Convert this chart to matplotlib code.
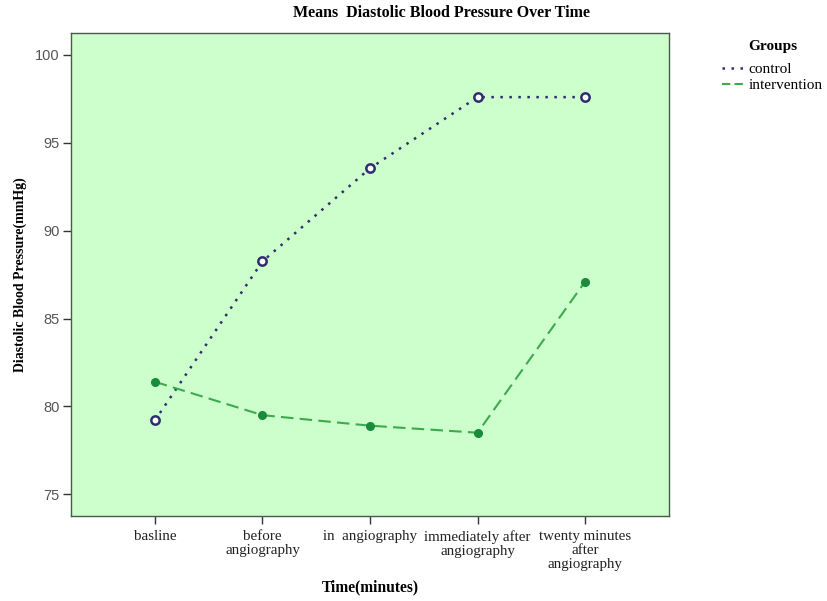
import matplotlib.pyplot as plt
from matplotlib.lines import Line2D

# 数据
time_labels = ['basline', 'before\nangiography', 'in  angiography',
               'immediately after\nangiography', 'twenty minutes\nafter\nangiography']
control = [79.2, 88.25, 93.55, 97.6, 97.6]
intervention = [81.4, 79.5, 78.9, 78.5, 87.1]
y_ticks = [75, 80, 85, 90, 95, 100]

BG = '#ccffcc'
CTRL_COLOR = '#2e2e6e'
INT_LINE = '#3daa4e'
INT_MARK = '#1a8a3c'
SERIF = ['Liberation Serif', 'DejaVu Serif']

fig = plt.figure(figsize=(8.27, 6.01), dpi=100)
ax = fig.add_axes([71 / 827, 85 / 601, 598 / 827, 483 / 601])
ax.set_facecolor(BG)

x = list(range(len(time_labels)))
ax.plot(x, control, linestyle=(0, (1, 2.6)), color=CTRL_COLOR, lw=1.8,
        marker='o', markersize=6, markerfacecolor='white',
        markeredgecolor=CTRL_COLOR, markeredgewidth=1.8, zorder=3)
ax.plot(x, intervention, linestyle=(0, (6, 3)), color=INT_LINE, lw=1.5,
        marker='o', markersize=5.5, markerfacecolor=INT_MARK,
        markeredgecolor=INT_MARK, zorder=3)

ax.set_xlim(-0.78, 4.78)
ax.set_ylim(73.76, 101.25)
ax.set_xticks(x)
ax.set_xticklabels(time_labels, family=SERIF, fontsize=10.8, color='#222222',
                   linespacing=1.12)
ax.set_yticks(y_ticks)
ax.set_yticklabels([str(v) for v in y_ticks], family=['Liberation Sans'],
                   fontsize=10.5, color='#555555')
ax.tick_params(axis='both', length=6, width=1, color='#333333')
ax.tick_params(axis='x', pad=4)
ax.tick_params(axis='y', pad=2)
for sp in ax.spines.values():
    sp.set_color('#4a5a4a')
    sp.set_linewidth(1)

ax.set_xlabel('Time(minutes)', family=SERIF, fontsize=11.2, fontweight='bold',
              labelpad=6)
ax.set_ylabel('Diastolic Blood Pressure(mmHg)', family=SERIF, fontsize=10,
              fontweight='bold', labelpad=6)

fig.text(441 / 827, 1 - 13 / 601, 'Means  Diastolic Blood Pressure Over Time',
         family=SERIF, fontsize=11.5, fontweight='bold', ha='center', va='center')

# 图例
handles = [Line2D([], [], linestyle=(0, (1, 2.6)), color=CTRL_COLOR, lw=1.8),
           Line2D([], [], linestyle=(0, (4, 2)), color=INT_LINE, lw=1.5)]
leg = fig.legend(handles, ['control', 'intervention'], title='Groups',
                 loc='upper left', bbox_to_anchor=(722 / 827, 1 - 40 / 601),
                 frameon=False, prop={'family': SERIF, 'size': 11},
                 handlelength=1.5, handletextpad=0.25, labelspacing=0.15,
                 borderaxespad=0, borderpad=0)
leg._legend_box.sep = 7
leg.get_title().set_fontfamily(SERIF)
leg.get_title().set_fontweight('bold')
leg.get_title().set_fontsize(11)

fig.savefig('out.png', dpi=100)
